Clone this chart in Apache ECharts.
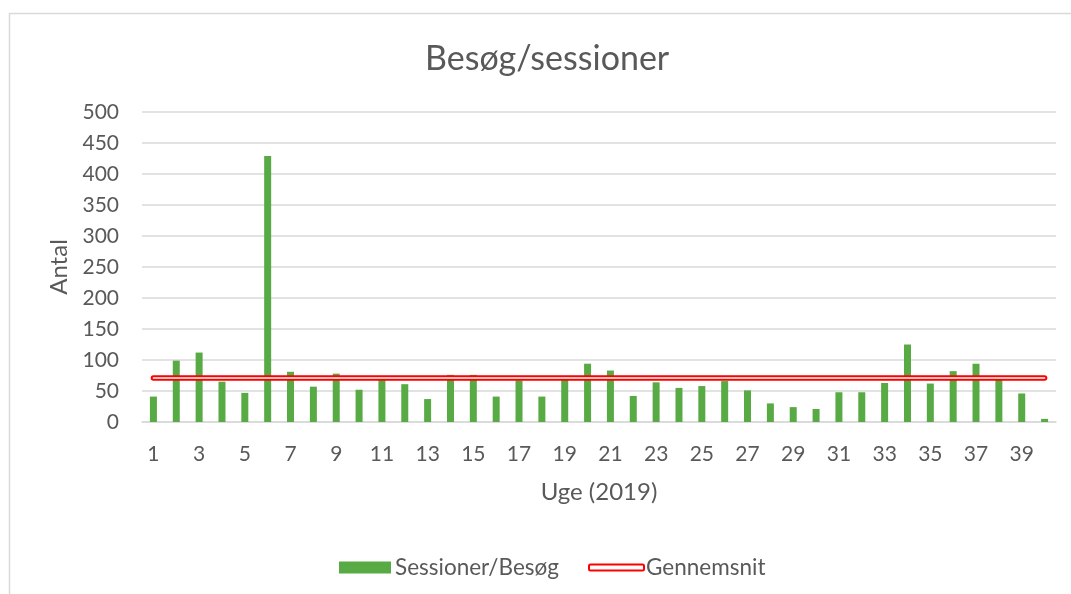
<!DOCTYPE html>
<html>
<head>
<meta charset="utf-8">
<script src="https://cdn.jsdelivr.net/npm/echarts@6/dist/echarts.min.js"></script>
<style>
  html, body { margin: 0; padding: 0; background: #fff; }
  #chart { width: 1071px; height: 594px; }
</style>
</head>
<body>
<div id="chart"></div>
<script>
// uger 1..40 i 2019
const weeks = []
for (let i = 1; i <= 40; i++) weeks.push(String(i))

// besøg pr. uge
const sessions = [
  41, 99, 112, 65, 47, 429, 81, 57, 78, 52,
  70, 61, 37, 76, 76, 41, 67, 41, 74, 94,
  83, 42, 64, 55, 58, 66, 51, 30, 24, 21,
  48, 48, 63, 125, 62, 82, 94, 70, 46, 5
]

const yTicks = [0, 50, 100, 150, 200, 250, 300, 350, 400, 450, 500]

// gennemsnit over alle uger
const avg = sessions.reduce((a, b) => a + b, 0) / sessions.length
const avgLine = weeks.map(() => avg)

const font = 'Lato'
const grey = '#595959'

const chart = echarts.init(document.getElementById('chart'))

chart.setOption({
  animation: false,
  textStyle: { fontFamily: font },
  title: {
    text: 'Besøg/sessioner',
    left: 420,
    top: 37,
    textStyle: { fontFamily: font, fontSize: 34, fontWeight: 'normal', color: grey }
  },
  graphic: [{
    type: 'rect',
    shape: { x: 9.5, y: 13.5, width: 1100, height: 700 },
    style: { fill: null, stroke: '#d9d9d9', lineWidth: 1.5 },
    silent: true
  }],
  grid: { left: 142, right: 15, top: 112, bottom: 172 },
  legend: [{
    left: 334,
    top: 551,
    itemWidth: 52,
    itemHeight: 12,
    data: [{ name: 'Sessioner/Besøg', icon: 'rect' }],
    textStyle: { fontSize: 22.5, color: grey, padding: [0, 0, 0, -1] }
  }, {
    left: 583,
    top: 551,
    itemWidth: 55,
    itemHeight: 6,
    data: [{
      name: 'Gennemsnit',
      icon: 'roundRect',
      itemStyle: { color: '#fff', borderColor: '#ff0000', borderWidth: 2 }
    }],
    textStyle: { fontSize: 22.5, color: grey, padding: [0, 0, 0, -3] }
  }],
  xAxis: {
    type: 'category',
    data: weeks,
    name: 'Uge (2019)',
    nameLocation: 'middle',
    nameGap: 58,
    nameTextStyle: { fontSize: 24, color: grey },
    axisLine: { lineStyle: { color: '#d9d9d9', width: 1.5 } },
    axisTick: { show: false },
    axisLabel: { interval: 1, fontSize: 21, color: grey, margin: 22 }
  },
  yAxis: {
    type: 'value',
    min: yTicks[0],
    max: yTicks[yTicks.length - 1],
    interval: 50,
    name: 'Antal',
    nameLocation: 'middle',
    nameGap: 68,
    nameTextStyle: { fontSize: 24, color: grey },
    axisLine: { show: false },
    axisTick: { show: false },
    axisLabel: { fontSize: 21, color: grey, margin: 23 },
    splitLine: { lineStyle: { color: '#d9d9d9', width: 1.5 } }
  },
  series: [{
    name: 'Sessioner/Besøg',
    type: 'bar',
    data: sessions,
    barWidth: 7,
    itemStyle: { color: '#58aa45' }
  }, {
    name: 'Gennemsnit',
    type: 'line',
    data: avgLine,
    symbol: 'none',
    z: 3,
    lineStyle: { color: '#ff0000', width: 5.5, cap: 'round' }
  }, {
    name: 'Gennemsnit',
    type: 'line',
    data: avgLine,
    symbol: 'none',
    z: 4,
    lineStyle: { color: '#ffffff', width: 1.5, cap: 'round' }
  }]
})
</script>
</body>
</html>
